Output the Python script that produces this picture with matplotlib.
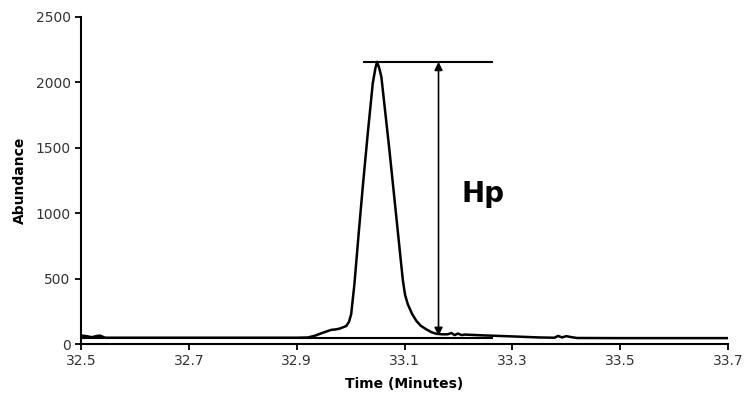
import numpy as np
import matplotlib.pyplot as plt

# chromatogram trace
time = [32.50, 32.51, 32.52, 32.53, 32.535, 32.545, 32.60, 32.70, 32.80, 32.90,
        32.921, 32.935, 32.949, 32.964, 32.973, 32.980, 32.992, 32.997, 33.001,
        33.007, 33.015, 33.023, 33.032, 33.041, 33.046, 33.049, 33.053, 33.057,
        33.064, 33.072, 33.080, 33.088, 33.093, 33.097, 33.101, 33.106, 33.114,
        33.122, 33.130, 33.140, 33.150, 33.159, 33.170, 33.180, 33.187, 33.193,
        33.199, 33.206, 33.212, 33.245, 33.30, 33.35, 33.378, 33.385, 33.392,
        33.40, 33.41, 33.42, 33.50, 33.60, 33.70]
abundance = [65, 60, 52, 62, 64, 48, 48, 48, 48, 48,
             50, 65, 87, 108, 112, 118, 138, 170, 228,
             458, 850, 1225, 1620, 1992, 2110, 2157, 2110, 2042,
             1780, 1480, 1160, 841, 640, 483, 375, 304, 230,
             176, 140, 113, 90, 78, 74, 74, 84, 68,
             80, 68, 72, 66, 58, 50, 48, 62, 50,
             60, 52, 46, 45, 45, 45]

peak_h = 2157
base_h = 45
arrow_t = 33.163
arrow_bottom = 62
hline_x = [33.024, 33.262]
base_x = [32.5, 33.262]

fig, ax = plt.subplots(figsize=(7.44, 4), dpi=100)
fig.subplots_adjust(left=0.109, right=0.9785, bottom=0.14, top=0.9575)

ax.plot(time, abundance, color='black', lw=1.8, solid_joinstyle='round')
ax.plot(hline_x, [peak_h, peak_h], color='black', lw=1.5)
ax.plot(base_x, [base_h, base_h], color='black', lw=1.5)
ax.annotate('', xy=(arrow_t, peak_h), xytext=(arrow_t, arrow_bottom),
            arrowprops=dict(arrowstyle='<|-|>', color='black', lw=1.2,
                            mutation_scale=12, shrinkA=0, shrinkB=0))
ax.text(33.205, 1150, 'Hp', fontsize=20, fontweight='bold', va='center', ha='left')

ax.set_xlim(32.5, 33.7)
ax.set_ylim(0, 2500)
xt = np.arange(32.5, 33.71, 0.2)
ax.set_xticks(xt)
ax.set_xticklabels([f'{v:.1f}' for v in xt])
ax.set_yticks([0, 500, 1000, 1500, 2000, 2500])
ax.spines['top'].set_visible(False)
ax.spines['right'].set_visible(False)
ax.spines['left'].set_linewidth(1.5)
ax.spines['bottom'].set_linewidth(1.5)
ax.tick_params(direction='out', length=4, width=1.3, labelsize=10, colors='black')
for t in ax.get_xticklabels() + ax.get_yticklabels():
    t.set_color('#333333')
ax.set_xlabel('Time (Minutes)', fontsize=10, fontweight='bold', labelpad=6)
ax.set_ylabel('Abundance', fontsize=10, fontweight='bold', labelpad=6)

plt.savefig('out.png', dpi=100)
